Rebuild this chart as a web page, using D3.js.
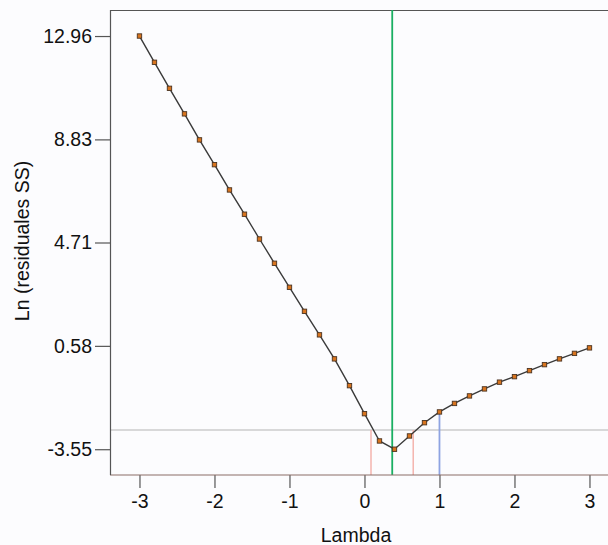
<!DOCTYPE html>
<html>
<head>
<meta charset="utf-8">
<script src="https://cdn.jsdelivr.net/npm/d3@7"></script>
<style>
html,body{margin:0;padding:0;background:#fcfcfe;}
svg{display:block;}
text{font-family:"Liberation Sans",Arial,Helvetica,sans-serif;fill:#111;}
</style>
</head>
<body>
<svg id="chart" width="608" height="545"></svg>
<script>
// ---- data ----
const lambdas = [-3.0,-2.8,-2.6,-2.4,-2.2,-2.0,-1.8,-1.6,-1.4,-1.2,-1.0,-0.8,-0.6,-0.4,-0.2,
                 0.0,0.2,0.4,0.6,0.8,1.0,1.2,1.4,1.6,1.8,2.0,2.2,2.4,2.6,2.8,3.0];
const lnSS = [12.96,11.91,10.87,9.85,8.81,7.82,6.81,5.84,4.85,3.88,2.92,1.96,1.02,0.06,-1.01,
              -2.13,-3.22,-3.55,-3.02,-2.49,-2.06,-1.72,-1.42,-1.14,-0.87,-0.65,-0.41,-0.17,0.06,0.28,0.50];
const xTicks = [-3,-2,-1,0,1,2,3];
const xTickLabels = ["-3","-2","-1","0","1","2","3"];
const yTicks = [-3.55,0.58,4.71,8.83,12.96];
const yTickLabels = ["-3.55","0.58","4.71","8.83","12.96"];
const ciLevel = -2.78;          // horizontal threshold line
const ciBounds = [0.087, 0.65]; // pink lines
const bestLambda = 0.37;        // green line
const refLambda = 1.0;          // blue line
const refValue = -2.06;
const xTitle = "Lambda";
const yTitle = "Ln (residuales SS)";

// ---- layout ----
const svg = d3.select("#chart");
const pL = 110, pR = 608, pT = 10, pB = 475;
const x = d3.scaleLinear().domain([-3.393, 3.247]).range([pL, pR]);
const y = d3.scaleLinear().domain([-4.58, 14.0]).range([pB, pT]);
const FF = "Liberation Sans, Arial, Helvetica, sans-serif";

// frame
svg.append("line").attr("x1",pL).attr("x2",pR).attr("y1",pT+0.5).attr("y2",pT+0.5)
  .attr("stroke","#555").attr("stroke-width",1.2);

// reference lines
svg.append("line").attr("x1",pL).attr("x2",pR).attr("y1",y(ciLevel)).attr("y2",y(ciLevel))
  .attr("stroke","#cdcdcd").attr("stroke-width",1.6);
ciBounds.forEach(b=>{
  svg.append("line").attr("x1",x(b)).attr("x2",x(b)).attr("y1",pB).attr("y2",y(ciLevel))
    .attr("stroke","#f4b4ae").attr("stroke-width",1.5);
});
svg.append("line").attr("x1",x(refLambda)).attr("x2",x(refLambda)).attr("y1",pB).attr("y2",y(refValue))
  .attr("stroke","#8ea3e2").attr("stroke-width",1.8);
svg.append("line").attr("x1",x(bestLambda)).attr("x2",x(bestLambda)).attr("y1",pT).attr("y2",pB)
  .attr("stroke","#1aaf62").attr("stroke-width",1.8);

// axes
const xAxis = d3.axisBottom(x).tickValues(xTicks).tickFormat((d,i)=>xTickLabels[i]).tickSize(13).tickSizeOuter(0).tickPadding(6);
const gx = svg.append("g").attr("transform",`translate(0,${pB})`).call(xAxis);
gx.select(".domain").remove();
gx.selectAll(".tick line").attr("stroke","#555").attr("stroke-width",1.2);
gx.selectAll(".tick text").attr("font-size",19.5).attr("font-family",FF).attr("fill","#111");

const yAxis = d3.axisLeft(y).tickValues(yTicks).tickFormat((d,i)=>yTickLabels[i]).tickSize(15).tickSizeOuter(0).tickPadding(3);
const gy = svg.append("g").attr("transform",`translate(${pL},0)`).call(yAxis);
gy.select(".domain").remove();
gy.selectAll(".tick line").attr("stroke","#555").attr("stroke-width",1.2);
gy.selectAll(".tick text").attr("font-size",19.5).attr("font-family",FF).attr("fill","#111");

svg.append("line").attr("x1",pL).attr("x2",pR).attr("y1",pB).attr("y2",pB)
  .attr("stroke","#8a6c66").attr("stroke-width",1.2);
svg.append("line").attr("x1",pL+0.5).attr("x2",pL+0.5).attr("y1",pT).attr("y2",pB)
  .attr("stroke","#555").attr("stroke-width",1.2);

// curve
const pts = lambdas.map((l,i)=>[l,lnSS[i]]);
svg.append("path").datum(pts)
  .attr("d", d3.line().x(d=>x(d[0])).y(d=>y(d[1])))
  .attr("fill","none").attr("stroke","#3a3a3a").attr("stroke-width",1.4);
svg.selectAll("rect.pt").data(pts).enter().append("rect").attr("class","pt")
  .attr("x",d=>x(d[0])-2.2).attr("y",d=>y(d[1])-2.2).attr("width",4.4).attr("height",4.4)
  .attr("fill","#d8741e").attr("stroke","#4a3322").attr("stroke-width",0.9);

// titles
svg.append("text").attr("x",356).attr("y",542).attr("text-anchor","middle")
  .attr("font-size",19.5).attr("font-family",FF).text(xTitle);
svg.append("text").attr("transform","translate(29,241) rotate(-90)").attr("text-anchor","middle")
  .attr("font-size",19.5).attr("font-family",FF).text(yTitle);
</script>
</body>
</html>
